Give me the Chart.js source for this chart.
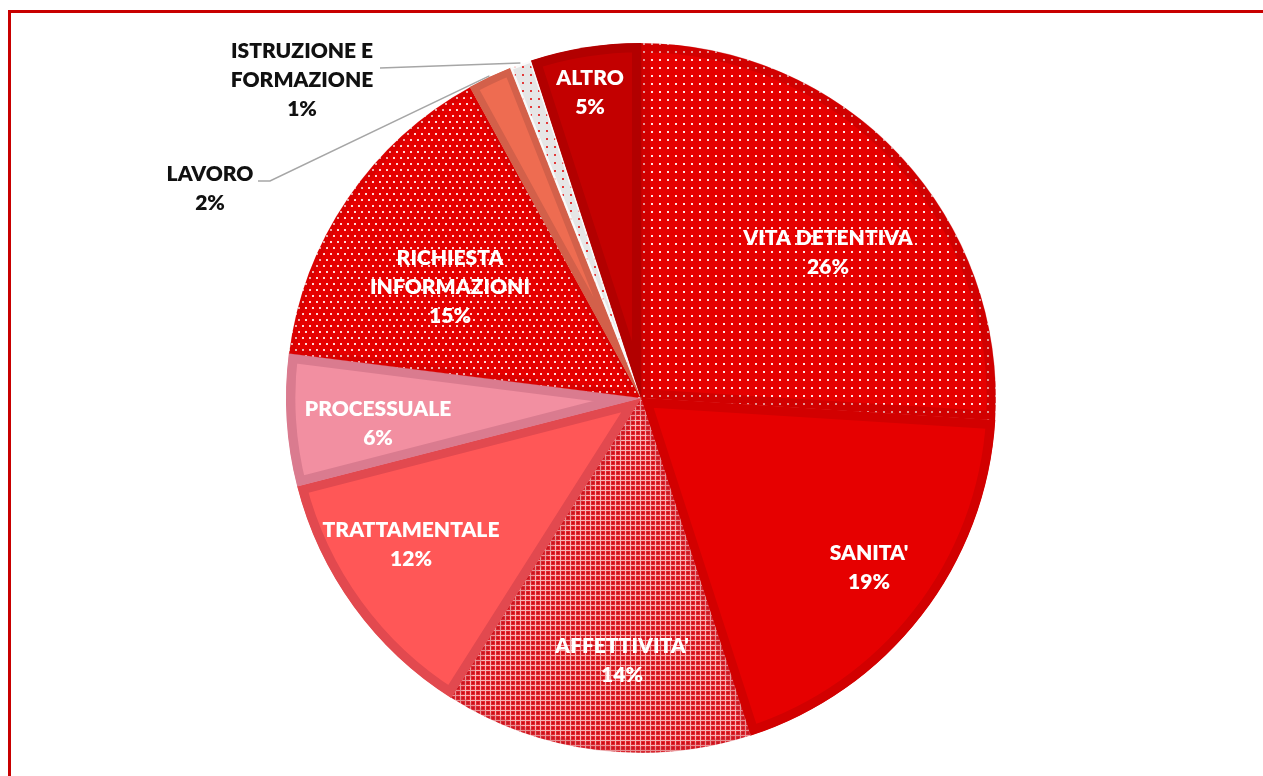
<!DOCTYPE html>
<html lang="it">
<head>
<meta charset="utf-8">
<title>Segnalazioni per area tematica</title>
<script src="https://cdn.jsdelivr.net/npm/chart.js@4.4.1/dist/chart.umd.min.js"></script>
<style>
  html, body { margin: 0; padding: 0; background: #ffffff; overflow: hidden; }
  #wrap { position: relative; width: 1263px; height: 776px; }
  #frame {
    position: absolute; left: 8px; top: 10px; width: 1400px; height: 900px;
    border-left: 3px solid #c80000; border-top: 3px solid #c80000; pointer-events: none;
  }
  canvas { position: absolute; left: 0; top: 0; }
</style>
</head>
<body>
<div id="wrap">
  <canvas id="chart" width="1263" height="776"></canvas>
  <div id="frame"></div>
</div>
<script>
// Categories and shares (%), clockwise from 12 o'clock
const categories = [
  "VITA DETENTIVA", "SANITA'", "AFFETTIVITA'", "TRATTAMENTALE", "PROCESSUALE",
  "RICHIESTA INFORMAZIONI", "LAVORO", "ISTRUZIONE E FORMAZIONE", "ALTRO"
];
const shares = [26, 19, 14, 12, 6, 15, 2, 1, 5];

// How each category label is broken into lines
const labelLines = [
  ["VITA DETENTIVA"], ["SANITA'"], ["AFFETTIVITA'"], ["TRATTAMENTALE"], ["PROCESSUALE"],
  ["RICHIESTA", "INFORMAZIONI"], ["LAVORO"], ["ISTRUZIONE E", "FORMAZIONE"], ["ALTRO"]
];

// Small repeating tiles used as slice fills
function tile(w, h, paint) {
  const c = document.createElement('canvas');
  c.width = w; c.height = h;
  const g = c.getContext('2d');
  paint(g);
  return document.getElementById('chart').getContext('2d').createPattern(c, 'repeat');
}
const dotsSparse = tile(8, 8, g => {
  g.fillStyle = '#e60000'; g.fillRect(0, 0, 8, 8);
  g.fillStyle = '#ffe2e2'; g.fillRect(3, 3, 2, 2);
});
const dotsDense = tile(7, 12, g => {
  g.fillStyle = '#e60000'; g.fillRect(0, 0, 7, 12);
  g.fillStyle = '#ffd6d6'; g.fillRect(1, 1, 2, 2); g.fillRect(4, 7, 2, 2);
});
const crossHatch = tile(5, 5, g => {
  g.fillStyle = '#e3262e'; g.fillRect(0, 0, 5, 5);
  g.fillStyle = '#f6b4b4'; g.fillRect(0, 0, 5, 1); g.fillRect(0, 0, 1, 5);
  g.fillStyle = '#c70f18'; g.fillRect(2, 2, 2, 2);
});
const greyDots = tile(8, 8, g => {
  g.fillStyle = '#e6e6e6'; g.fillRect(0, 0, 8, 8);
  g.fillStyle = '#e23a3a'; g.fillRect(2, 2, 2, 2);
});

const fills = [dotsSparse, '#e60000', crossHatch, '#ff5757', '#f28fa1', dotsDense, '#ee6c51', greyDots, '#c30000'];
const edges = ['rgba(170,0,0,0.35)', '#d20000', 'rgba(190,40,50,0.25)', '#e2494f', '#da7b8f',
               'rgba(170,0,0,0.2)', '#d3604a', 'rgba(255,255,255,0.8)', '#b20000'];
const edgeWidths = [9, 9, 6, 9, 9, 6, 7, 2, 9];

// Text placement (centre of the first line) and colour
const labelPos = [
  [828, 238], [869, 553], [622, 646], [411, 530], [378, 409],
  [450, 258], [210, 174], [302, 51], [590, 78]
];
const labelColor = ['#fff', '#fff', '#fff', '#fff', '#fff', '#fff', '#111', '#111', '#fff'];
// Slices labelled outside get a leader line starting next to the text
const leaderStart = { 6: [[258, 181], [270, 181]], 7: [[380, 68]] };

const labelPlugin = {
  id: 'sliceLabels',
  afterDatasetsDraw(chart) {
    const ctx = chart.ctx;
    const arcs = chart.getDatasetMeta(0).data;
    ctx.save();
    // leader lines to the outer edge of small slices
    ctx.strokeStyle = '#a6a6a6';
    ctx.lineWidth = 1.5;
    Object.keys(leaderStart).forEach(k => {
      const a = arcs[k];
      const mid = (a.startAngle + a.endAngle) / 2;
      const ex = a.x + Math.cos(mid) * (a.outerRadius + 1);
      const ey = a.y + Math.sin(mid) * (a.outerRadius + 1);
      ctx.beginPath();
      leaderStart[k].forEach((p, i) => i ? ctx.lineTo(p[0], p[1]) : ctx.moveTo(p[0], p[1]));
      ctx.lineTo(ex, ey);
      ctx.stroke();
    });
    ctx.font = '800 21px Lato, "Open Sans", sans-serif';
    ctx.textAlign = 'center';
    ctx.textBaseline = 'middle';
    const lh = 29;
    shares.forEach((v, i) => {
      const lines = labelLines[i].concat([v + '%']);
      ctx.fillStyle = labelColor[i];
      lines.forEach((t, j) => ctx.fillText(t, labelPos[i][0], labelPos[i][1] + j * lh));
    });
    ctx.restore();
  }
};

new Chart(document.getElementById('chart'), {
  type: 'pie',
  data: {
    labels: categories,
    datasets: [{
      data: shares,
      backgroundColor: fills,
      borderColor: edges,
      borderWidth: edgeWidths,
      borderAlign: 'inner',
      hoverOffset: 0
    }]
  },
  options: {
    responsive: false,
    animation: false,
    radius: 355,
    layout: { padding: { left: 19, right: 0, top: 20, bottom: 0 } },
    plugins: { legend: { display: false }, tooltip: { enabled: false } },
    events: []
  },
  plugins: [labelPlugin]
});
</script>
</body>
</html>
